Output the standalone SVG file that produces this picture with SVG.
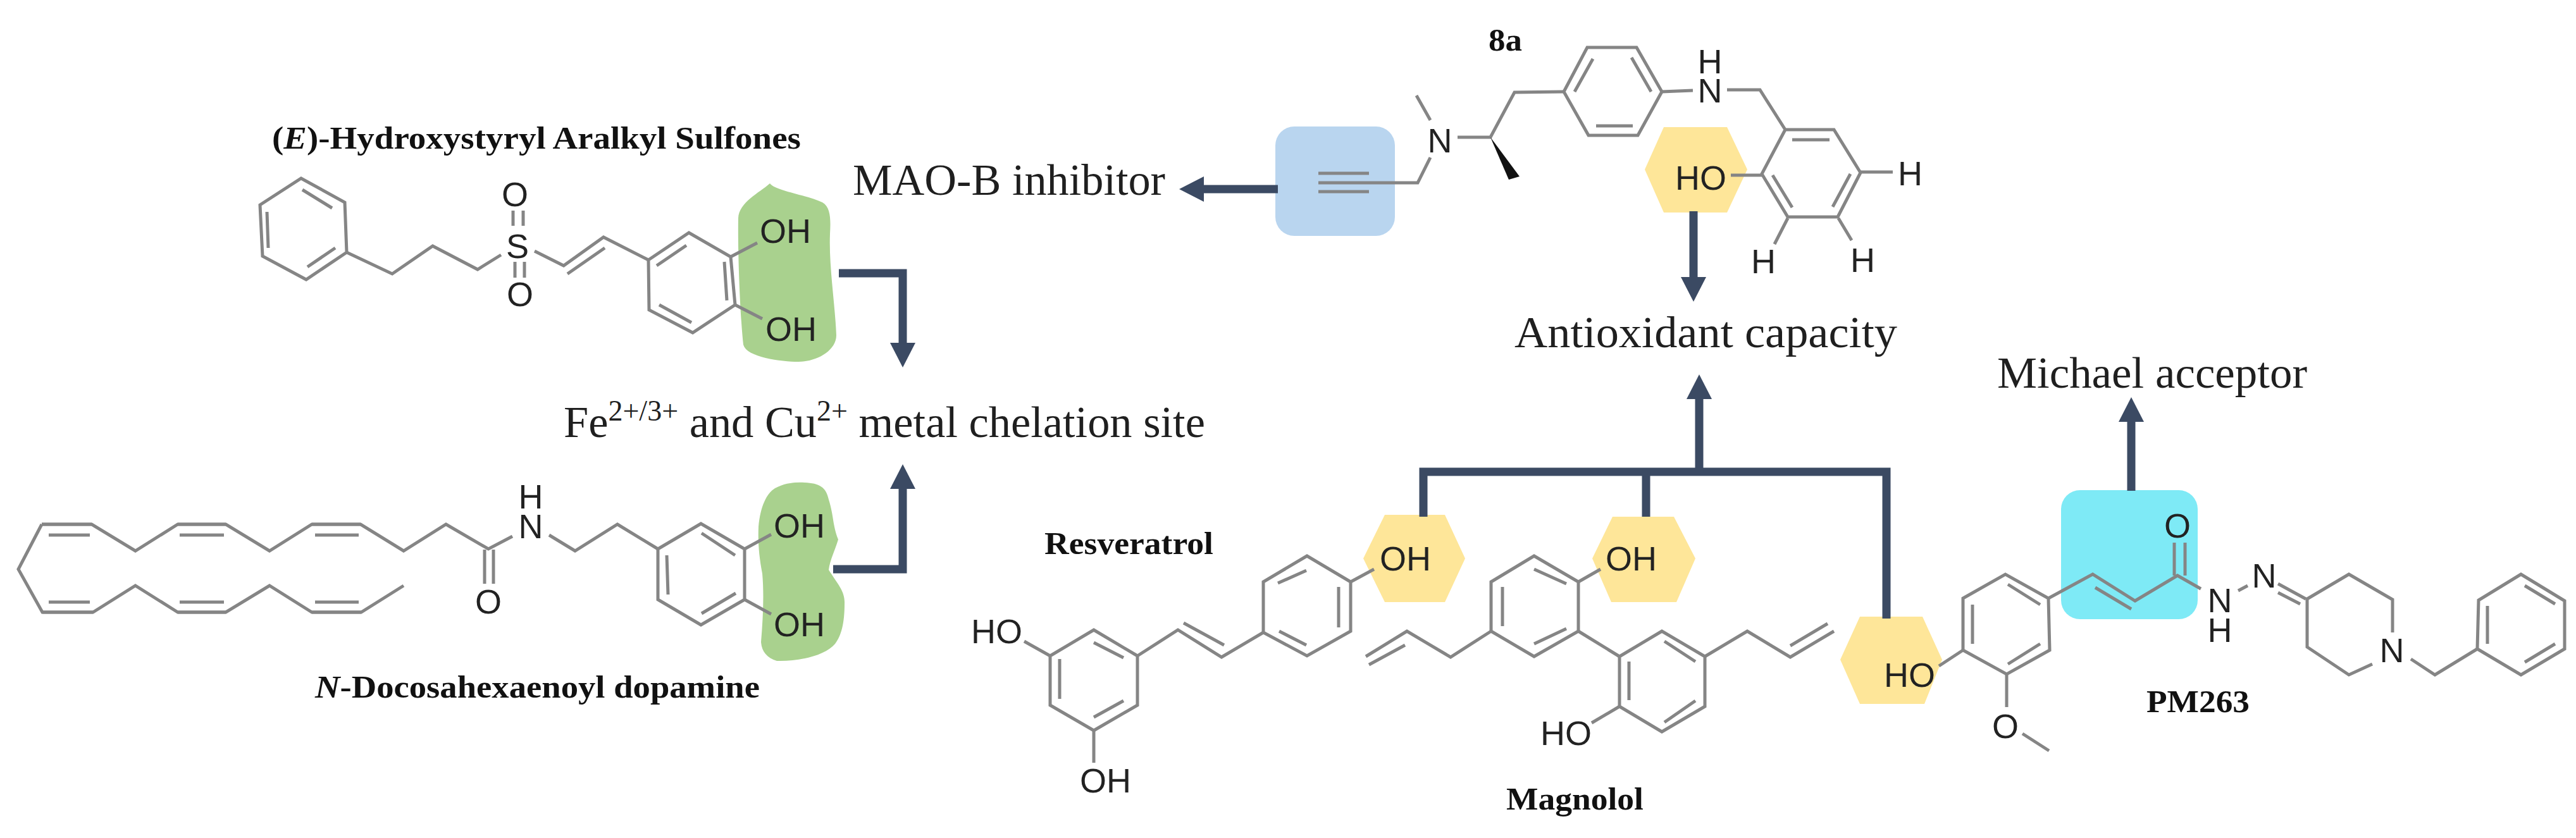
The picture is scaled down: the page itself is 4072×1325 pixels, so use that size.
<svg xmlns="http://www.w3.org/2000/svg" width="4072" height="1325" viewBox="0 0 4072 1325">
<style>
.b{fill:none;stroke:#858585;stroke-width:5;stroke-linejoin:miter;stroke-linecap:butt}
.a{font-family:"Liberation Sans",Arial,sans-serif;font-size:54px;fill:#222}
.m{text-anchor:middle}
.l{font-family:"Liberation Serif","Times New Roman",serif;font-size:70.4px;fill:#1f1f1f}
.c{font-family:"Liberation Serif","Times New Roman",serif;font-size:50px;font-weight:bold;fill:#111}
.y{fill:#fee699}
.g{fill:#a9d18e}
.arr{fill:none;stroke:#3b4a63;stroke-width:13;stroke-linejoin:miter}
</style>
<defs>
<marker id="ah" markerUnits="userSpaceOnUse" markerWidth="40" markerHeight="42" viewBox="0 0 40 42" refX="1" refY="21" orient="auto"><path d="M0 1L39 21L0 41Z" fill="#3b4a63"/></marker>
</defs>
<rect width="4072" height="1325" fill="#fff"/>

<g id="highlights">
<path class="g" d="M1217 290C1226 302 1275 308 1300 320C1314 328 1313 350 1312 370C1310 420 1320 480 1322 530C1322 555 1290 572 1262 572C1235 572 1180 565 1175 545C1170 500 1166 400 1167 345C1168 320 1200 305 1217 290Z"/>
<path class="g" d="M1272 763C1295 764 1306 770 1310 790C1318 815 1316 830 1325 853C1320 870 1312 885 1310 901C1325 925 1336 935 1335 955C1335 985 1330 1005 1320 1018C1305 1036 1265 1046 1228 1045C1212 1040 1204 1030 1203 1015C1206 980 1208 940 1205 907C1200 880 1198 860 1199 833C1202 800 1212 780 1225 772C1240 764 1255 762 1272 763Z"/>
<rect x="2016" y="200" width="189" height="173" rx="30" fill="#b9d5ef"/>
<path class="y" d="M2600 268L2630 201L2730 201L2762 268L2730 336L2630 336Z"/>
<path class="y" d="M2155 883L2189 814L2284 814L2316 883L2284 952L2189 952Z"/>
<path class="y" d="M2517 883L2549 817L2646 817L2680 883L2650 952L2547 952Z"/>
<path class="y" d="M2909 1043L2940 975L3039 975L3070 1043L3042 1113L2940 1113Z"/>
<rect x="3258" y="775" width="216" height="204" rx="30" fill="#7eeaf6"/>
</g>

<g id="connectors">
<path class="arr" d="M1326 432H1427V543" marker-end="url(#ah)"/>
<path class="arr" d="M1317 900H1427V772" marker-end="url(#ah)"/>
<path class="arr" d="M2020 299H1902" marker-end="url(#ah)"/>
<path class="arr" d="M2677 334V439" marker-end="url(#ah)"/>
<path class="arr" d="M2250 817V746H2982V978"/>
<path class="arr" d="M2602 746V817"/>
<path class="arr" d="M2686 746V630" marker-end="url(#ah)"/>
<path class="arr" d="M3369 776V666" marker-end="url(#ah)"/>
</g>

<g id="sulfone">
<path class="b" d="M476 282L545 320L548 399L484 442L415 405L411 324Z"/>
<path class="b" d="M478 300L525 329M422 335L424 392M486 422L530 392"/>
<path class="b" d="M548 399L620 433L684 389L755 426L792 403"/>
<path class="b" d="M811 333V357M827 333V357M814 414V439M829 414V439"/>
<path class="b" d="M845 397L891 420L954 375L1025 411M897 433L956 392"/>
<path class="b" d="M1025 411L1089 368L1155 406L1162 482L1095 526L1026 490Z"/>
<path class="b" d="M1038 420L1085 388M1145 414L1149 475M1042 482L1093 510"/>
<path class="b" d="M1155 406L1197 384M1162 482L1205 504"/>
<text class="a m" x="818" y="408">S</text>
<text class="a m" x="814" y="326">O</text>
<text class="a m" x="822" y="484">O</text>
<text class="a" x="1201" y="384">OH</text>
<text class="a" x="1210" y="539">OH</text>
<text class="c" x="430" y="235" textLength="836" lengthAdjust="spacingAndGlyphs">(<tspan font-style="italic">E</tspan>)-Hydroxystyryl Aralkyl Sulfones</text>
</g>

<g id="dopamine">
<path class="b" d="M66 829H145L214 871L281 829H357L426 871L493 829H570L638 871L705 829L772 868L810 848"/>
<path class="b" d="M66 829L29 900L67 968H147L214 926L281 968H357L426 926L493 968H571L638 926"/>
<path class="b" stroke-width="7" d="M66 829H145M281 829H357M493 829H570M67 968H147M281 968H357M493 968H571"/>
<path class="b" stroke-width="7" d="M77 846H142M284 846H354M498 846H567M77 952H142M284 952H354M498 952H567"/>
<path class="b" d="M766 869V923M780 869V923"/>
<path class="b" d="M868 846L909 871L976 829L1040 868"/>
<path class="b" d="M1040 868L1108 828L1177 868V948L1108 988L1040 948Z"/>
<path class="b" d="M1109 843L1162 878M1054 878L1056 940M1109 970L1163 938"/>
<path class="b" d="M1177 868L1219 845M1177 948L1219 971"/>
<text class="a m" x="772" y="970">O</text>
<text class="a m"><tspan x="839" y="804">H</tspan><tspan x="839" y="851">N</tspan></text>
<text class="a" x="1223" y="850">OH</text>
<text class="a" x="1223" y="1006">OH</text>
<text class="c" x="498" y="1103" textLength="703" lengthAdjust="spacingAndGlyphs"><tspan font-style="italic">N</tspan>-Docosahexaenoyl dopamine</text>
</g>

<g id="chelation">
<text class="l" x="891" y="691">Fe<tspan dy="-26" font-size="46">2+/3+</tspan><tspan dy="26"> and Cu</tspan><tspan dy="-26" font-size="46">2+</tspan><tspan dy="26"> metal chelation site</tspan></text>
</g>

<g id="maob">
<text class="l" x="1348" y="308" textLength="494" lengthAdjust="spacingAndGlyphs">MAO-B inhibitor</text>
</g>

<g id="compound-8a">
<path class="b" d="M2084 274H2164M2084 289H2241L2261 249M2084 303H2164"/>
<path class="b" d="M2261 190L2239 151M2304 217H2356L2394 146L2472 145"/>
<path d="M2356 217L2385 284L2402 279Z" fill="#111"/>
<path class="b" d="M2472 145L2509 75H2587L2627 145L2589 214H2511Z"/>
<path class="b" d="M2518 93L2489 145M2579 91L2610 145M2523 199H2581"/>
<path class="b" d="M2627 145L2676 143M2730 142H2782L2822 205"/>
<path class="b" d="M2822 205H2899L2941 273L2905 343H2826L2785 275Z"/>
<path class="b" d="M2833 221H2892M2925 275L2897 327M2802 277L2833 328"/>
<path class="b" d="M2941 272H2992M2826 345L2805 386M2906 345L2927 380M2736 277H2785"/>
<text class="a m" x="2276" y="241">N</text>
<text class="a m"><tspan x="2703" y="116">H</tspan><tspan x="2703" y="162">N</tspan></text>
<text class="a" x="3000" y="293">H</text>
<text class="a" x="2768" y="432">H</text>
<text class="a" x="2925" y="430">H</text>
<text class="a" x="2648" y="300">HO</text>
<text class="c" x="2353" y="80" textLength="53" lengthAdjust="spacingAndGlyphs">8a</text>
</g>

<g id="antioxidant">
<text class="l" x="2394" y="549" textLength="605" lengthAdjust="spacingAndGlyphs">Antioxidant capacity</text>
</g>

<g id="michael">
<text class="l" x="3157" y="613" textLength="490" lengthAdjust="spacingAndGlyphs">Michael acceptor</text>
</g>

<g id="resveratrol">
<path class="b" d="M2066 879L2135 920V998L2066 1037L1997 1000V920Z"/>
<path class="b" d="M2020 922L2065 902M2116 928V992M2022 998L2065 1020"/>
<path class="b" d="M2135 920L2172 900"/>
<path class="b" d="M1997 1000L1931 1039L1862 996L1798 1037M1871 985L1935 1020"/>
<path class="b" d="M1798 1037L1729 996L1660 1037V1115L1729 1155L1798 1115Z"/>
<path class="b" d="M1729 1016L1776 1040M1675 1042V1105M1729 1134L1776 1108"/>
<path class="b" d="M1660 1037L1619 1014M1729 1155V1206"/>
<text class="a" x="2181" y="902">OH</text>
<text class="a" x="1535" y="1017">HO</text>
<text class="a" x="1707" y="1253">OH</text>
<text class="c" x="1651" y="876" textLength="267" lengthAdjust="spacingAndGlyphs">Resveratrol</text>
</g>

<g id="magnolol">
<path class="b" d="M2425 879L2495 920V998L2425 1038L2357 998V920Z"/>
<path class="b" d="M2425 900L2476 923M2375 928V990M2425 1018L2476 994"/>
<path class="b" d="M2495 920L2530 900"/>
<path class="b" d="M2357 998L2293 1039L2224 998L2159 1038M2164 1051L2221 1020"/>
<path class="b" d="M2495 998L2560 1038"/>
<path class="b" d="M2560 1038L2627 998L2695 1038V1117L2627 1157L2560 1117Z"/>
<path class="b" d="M2631 1014L2680 1046M2575 1046V1107M2631 1142L2680 1108"/>
<path class="b" d="M2695 1038L2762 998L2830 1039L2899 998M2830 1021L2889 986"/>
<path class="b" d="M2560 1117L2516 1143"/>
<text class="a" x="2538" y="902">OH</text>
<text class="a" x="2435" y="1178">HO</text>
<text class="c" x="2381" y="1280" textLength="217" lengthAdjust="spacingAndGlyphs">Magnolol</text>
</g>

<g id="pm263">
<path class="b" d="M3103 946L3170 908L3238 946L3240 1028L3172 1066L3103 1028Z"/>
<path class="b" d="M3174 924L3225 956M3118 956V1018M3174 1050L3225 1018"/>
<path class="b" d="M3103 1028L3065 1053M3172 1066V1118M3197 1160L3239 1187"/>
<path class="b" d="M3238 946L3308 908L3375 950L3442 910L3479 931M3312 929L3369 963"/>
<path class="b" d="M3437 858V910M3454 858V910"/>
<path class="b" d="M3538 934L3553 926M3601 923L3645 947M3601 937L3636 955"/>
<path class="b" d="M3782 1000V948L3713 908L3647 947V1023L3713 1067L3750 1050"/>
<path class="b" d="M3811 1042L3849 1067L3916 1026"/>
<path class="b" d="M3916 1026L3918 949L3985 908L4054 950V1026L3985 1067Z"/>
<path class="b" d="M3991 926L4039 955M3991 1047L4039 1018M3932 958V1018"/>
<text class="a" x="2978" y="1086">HO</text>
<text class="a m" x="3170" y="1167">O</text>
<text class="a m" x="3442" y="850">O</text>
<text class="a m"><tspan x="3509" y="968">N</tspan><tspan x="3509" y="1015">H</tspan></text>
<text class="a m" x="3579" y="929">N</text>
<text class="a m" x="3781" y="1047">N</text>
<text class="c" x="3393" y="1126" textLength="163" lengthAdjust="spacingAndGlyphs">PM263</text>
</g>
</svg>
